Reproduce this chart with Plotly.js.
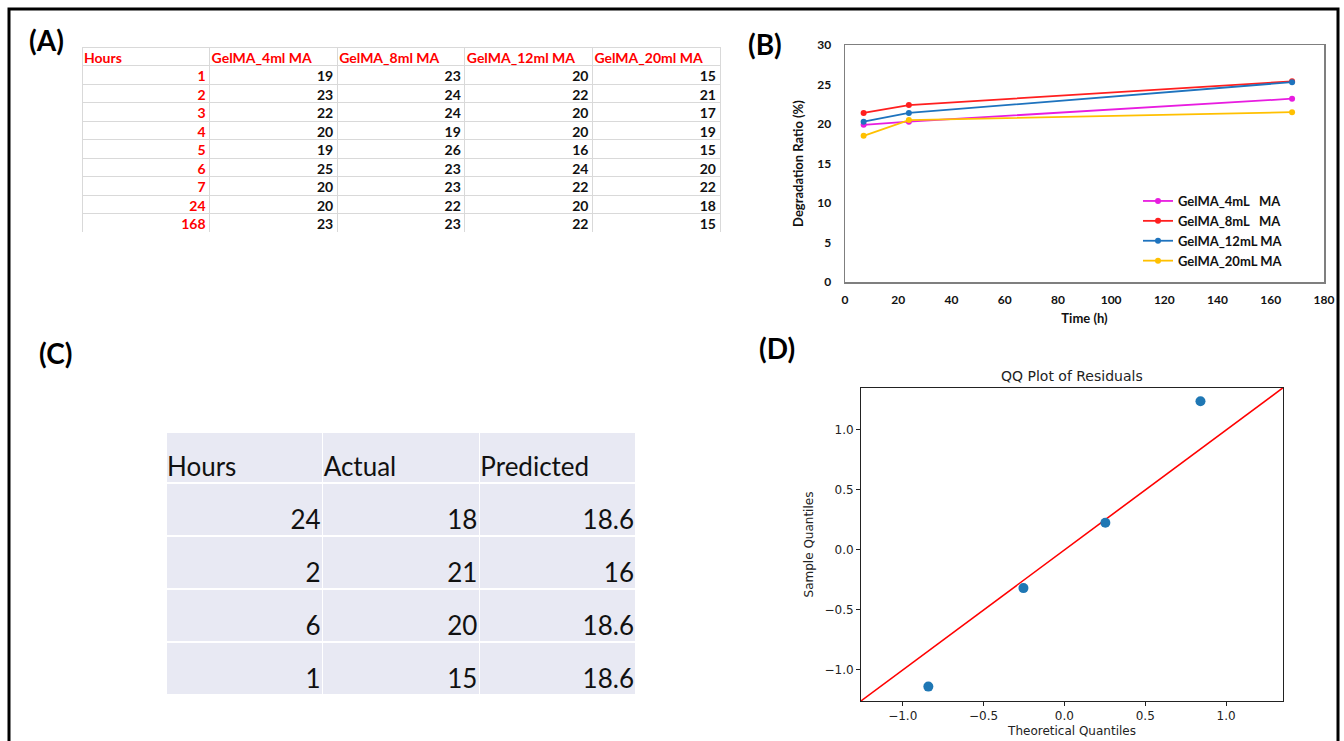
<!DOCTYPE html>
<html>
<head>
<meta charset="utf-8">
<script src="https://cdn.plot.ly/plotly-3.0.1.min.js"></script>
<style>html,body{margin:0;padding:0;background:#fff;}#chart{width:1344px;height:741px;}</style>
</head>
<body>
<div id="chart"></div>
<script>
// ---------- Panel A: degradation table ----------
const tableAHeaders = ['Hours', 'GelMA_4ml MA', 'GelMA_8ml MA', 'GelMA_12ml MA', 'GelMA_20ml MA'];
const tableAHours = [1, 2, 3, 4, 5, 6, 7, 24, 168];
const tableA4ml = [19, 23, 22, 20, 19, 25, 20, 20, 23];
const tableA8ml = [23, 24, 24, 19, 26, 23, 23, 22, 23];
const tableA12ml = [20, 22, 20, 20, 16, 24, 22, 20, 22];
const tableA20ml = [15, 21, 17, 19, 15, 20, 22, 18, 15];

// ---------- Panel B: degradation ratio vs time ----------
const timeHours = [7, 24, 168];
const seriesNames = ['GelMA_4mL\u00a0\u00a0 MA', 'GelMA_8mL\u00a0\u00a0 MA', 'GelMA_12mL MA', 'GelMA_20mL MA'];
const ratio4mL = [19.9, 20.3, 23.2];
const ratio8mL = [21.4, 22.4, 25.4];
const ratio12mL = [20.3, 21.4, 25.3];
const ratio20mL = [18.5, 20.5, 21.5];
const seriesColors = ['#E81CE0', '#FF1F1F', '#1E73BE', '#FFC000'];

// ---------- Panel C: actual vs predicted ----------
const tableCHeaders = ['Hours', 'Actual', 'Predicted'];
const tableCHours = [24, 2, 6, 1];
const tableCActual = [18, 21, 20, 15];
const tableCPredicted = ['18.6', '16', '18.6', '18.6'];

// ---------- Panel D: QQ plot ----------
const theoreticalQ = [-0.8416, -0.2533, 0.2533, 0.8416];
const sampleQ = [-1.139, -0.318, 0.227, 1.239];
const qqLineEnds = [-1.26, 1.352];

const W = 1344, H = 741;
const px = v => v / W;
const py = v => 1 - v / H;
const CLEAR = 'rgba(0,0,0,0)';
const noWrap = s => String(s).replace(/ /g, '\u00a0');

const traces = [];

// Builds a table: one trace for the grid and fills, and text layers nudged to match the reference padding.
function addTable(opt) {
  const headers = opt.headers.map(noWrap);
  const blankHeader = headers.map(() => '');
  const blankCells = opt.columns.map(col => col.map(() => ''));
  const widths = headers.map(() => 1);
  const dom = (dx, dy, extra) => ({x: [px(opt.left + dx), px(opt.right + dx)], y: [py(opt.bottom + dy + extra), py(opt.top + dy)]});
  // grid + fill
  traces.push({
    type: 'table', domain: dom(0, 0, 0), columnwidth: widths,
    header: {values: blankHeader, height: opt.headerHeight, fill: {color: opt.fill}, line: {color: opt.lineColor, width: opt.lineWidth}},
    cells: {values: blankCells, height: opt.rowHeight, fill: {color: opt.fill}, line: {color: opt.lineColor, width: opt.lineWidth}}
  });
  // header text
  traces.push({
    type: 'table', domain: dom(opt.hdx, opt.hdy, 30), columnwidth: widths,
    header: {values: headers, align: 'left', height: opt.headerHeight, fill: {color: CLEAR}, line: {color: CLEAR, width: 0}, font: opt.headerFont},
    cells: {values: blankCells, height: opt.rowHeight, fill: {color: CLEAR}, line: {color: CLEAR, width: 0}}
  });
  // cell text
  traces.push({
    type: 'table', domain: dom(opt.cdx, opt.cdy, 30), columnwidth: widths,
    header: {values: blankHeader, height: opt.headerHeight, fill: {color: CLEAR}, line: {color: CLEAR, width: 0}},
    cells: {values: opt.columns, align: 'right', height: opt.rowHeight, fill: {color: CLEAR}, line: {color: CLEAR, width: 0}, font: opt.cellFont}
  });
}

addTable({
  headers: tableAHeaders,
  columns: [tableAHours, tableA4ml, tableA8ml, tableA12ml, tableA20ml],
  left: 82, right: 720, top: 47, bottom: 232,
  headerHeight: 18.5, rowHeight: 18.5,
  fill: '#ffffff', lineColor: '#d9d9d9', lineWidth: 1,
  hdx: -6, hdy: -3, cdx: 4, cdy: -3,
  headerFont: {family: 'Lato, sans-serif', size: 14, color: '#FF0000', weight: 'bold'},
  cellFont: {family: 'Lato, sans-serif', size: 14, color: ['#FF0000', '#111', '#111', '#111', '#111'], weight: 'bold'}
});

addTable({
  headers: tableCHeaders,
  columns: [tableCHours, tableCActual, tableCPredicted],
  left: 166, right: 636, top: 432, bottom: 695,
  headerHeight: 51, rowHeight: 53,
  fill: '#E8E9F3', lineColor: '#ffffff', lineWidth: 1.5,
  hdx: -7, hdy: 16, cdx: 6, cdy: 18,
  headerFont: {family: 'Lato, sans-serif', size: 26, color: '#111'},
  cellFont: {family: 'Lato, sans-serif', size: 26, color: '#111'}
});

// Panel B lines
const ratios = [ratio4mL, ratio8mL, ratio12mL, ratio20mL];
ratios.forEach((r, i) => {
  traces.push({
    type: 'scatter', mode: 'lines+markers',
    x: timeHours, y: r, name: seriesNames[i],
    xaxis: 'x', yaxis: 'y',
    line: {color: seriesColors[i], width: 1.8},
    marker: {color: seriesColors[i], size: 6},
    showlegend: true
  });
});

// Panel D
traces.push({
  type: 'scatter', mode: 'lines', x: qqLineEnds, y: qqLineEnds,
  xaxis: 'x2', yaxis: 'y2', line: {color: '#FF0000', width: 1.6}, showlegend: false
});
traces.push({
  type: 'scatter', mode: 'markers', x: theoreticalQ, y: sampleQ,
  xaxis: 'x2', yaxis: 'y2', marker: {color: '#1f77b4', size: 10}, showlegend: false
});

const tickFontB = {family: 'Lato, sans-serif', size: 12, color: '#111', weight: 'bold'};
const titleFontB = {family: 'Lato, sans-serif', size: 13, color: '#111', weight: 'bold'};
const mplFont = {family: 'DejaVu Sans, sans-serif', size: 12, color: '#222'};
const labelFont = {family: 'Lato, sans-serif', size: 28, color: '#000', weight: 'bold'};

const layout = {
  width: W, height: H,
  margin: {l: 0, r: 0, t: 0, b: 0},
  paper_bgcolor: '#ffffff', plot_bgcolor: CLEAR,
  showlegend: true,
  legend: {
    x: px(1138), y: py(186), xanchor: 'left', yanchor: 'top',
    bgcolor: CLEAR, font: {family: 'Lato, sans-serif', size: 13, color: '#111', weight: 'bold'},
    tracegroupgap: 0, itemwidth: 30
  },
  xaxis: {
    domain: [px(845), px(1324)], anchor: 'y', range: [0, 180], dtick: 20,
    showgrid: false, zeroline: false, showline: true, mirror: true, linecolor: '#7f7f7f', linewidth: 1.5,
    ticks: '', tickfont: tickFontB, ticklabelstandoff: 6,
    title: {text: 'Time (h)', font: titleFontB, standoff: 8}
  },
  yaxis: {
    domain: [py(282), py(45)], anchor: 'x', range: [0, 30], dtick: 5,
    showgrid: false, zeroline: false, showline: true, mirror: true, linecolor: '#7f7f7f', linewidth: 1.5,
    ticks: '', tickfont: tickFontB, ticklabelstandoff: 10,
    title: {text: 'Degradation Ratio (%)', font: titleFontB, standoff: 10}
  },
  xaxis2: {
    domain: [px(861), px(1283)], anchor: 'y2', range: [-1.258, 1.352],
    tickvals: [-1, -0.5, 0, 0.5, 1], tickformat: '.1f',
    showgrid: false, zeroline: false, showline: true, mirror: true, linecolor: '#222', linewidth: 1,
    ticks: 'outside', ticklen: 4, tickcolor: '#222', tickfont: mplFont,
    title: {text: 'Theoretical Quantiles', font: mplFont, standoff: 4}
  },
  yaxis2: {
    domain: [py(701), py(388)], anchor: 'x2', range: [-1.259, 1.35],
    tickvals: [-1, -0.5, 0, 0.5, 1], tickformat: '.1f',
    showgrid: false, zeroline: false, showline: true, mirror: true, linecolor: '#222', linewidth: 1,
    ticks: 'outside', ticklen: 4, tickcolor: '#222', tickfont: mplFont,
    title: {text: 'Sample Quantiles', font: mplFont, standoff: 8}
  },
  shapes: [
    {type: 'rect', xref: 'paper', yref: 'paper', x0: px(9), x1: px(1338), y0: py(760), y1: py(9),
     line: {color: '#000', width: 3}, fillcolor: CLEAR}
  ],
  annotations: [
    {text: '(A)', x: px(46), y: py(40), xref: 'paper', yref: 'paper', xanchor: 'center', yanchor: 'middle', showarrow: false, font: labelFont},
    {text: '(B)', x: px(765), y: py(44), xref: 'paper', yref: 'paper', xanchor: 'center', yanchor: 'middle', showarrow: false, font: labelFont},
    {text: '(C)', x: px(55), y: py(353), xref: 'paper', yref: 'paper', xanchor: 'center', yanchor: 'middle', showarrow: false, font: labelFont},
    {text: '(D)', x: px(777), y: py(348), xref: 'paper', yref: 'paper', xanchor: 'center', yanchor: 'middle', showarrow: false, font: labelFont},
    {text: 'QQ Plot of Residuals', x: px(1072), y: py(376), xref: 'paper', yref: 'paper', xanchor: 'center', yanchor: 'middle', showarrow: false,
     font: {family: 'DejaVu Sans, sans-serif', size: 14, color: '#222'}}
  ]
};

Plotly.newPlot('chart', traces, layout, {displayModeBar: false, staticPlot: true});
</script>
</body>
</html>
